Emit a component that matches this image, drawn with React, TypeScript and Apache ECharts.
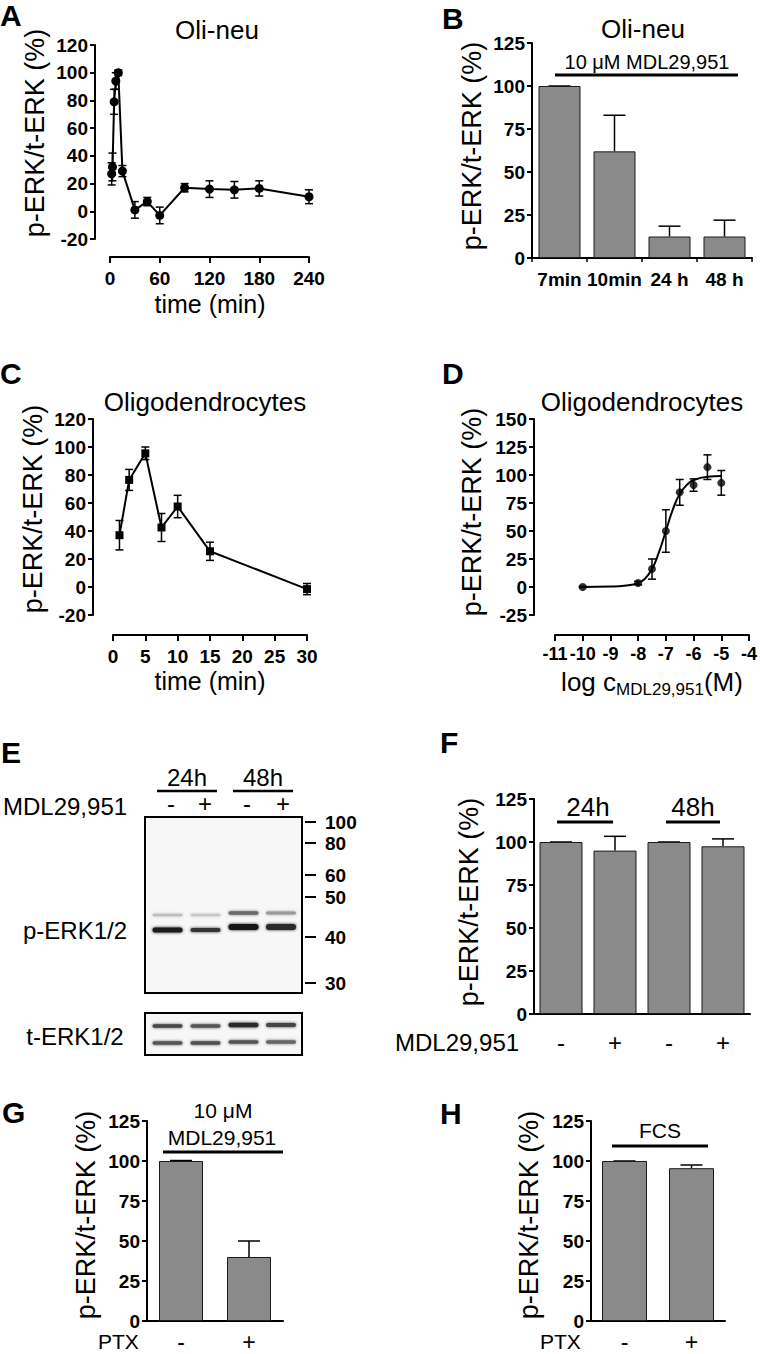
import React, { useEffect, useRef } from 'react';
import * as echarts from 'echarts';

const FONT = '"Liberation Sans", Arial, Helvetica, sans-serif';

// ---- Panel A: Oli-neu time course ----
const A_TIME = [2, 3, 5, 7, 10, 15, 30, 45, 60, 90, 120, 150, 180, 240];
const A_VAL = [27, 32, 79, 94, 100, 29, 1, 7, -3, 17, 16, 15.5, 16.5, 10.5];
const A_ERR = [8, 10, 9, 6, 2, 4, 6, 3, 6, 3, 6, 6, 5.5, 5];

// ---- Panel B: Oli-neu bars ----
const B_CATS = ['7min', '10min', '24 h', '48 h'];
const B_VAL = [100, 62, 12.5, 12.5];
const B_ERR = [0, 21, 6, 9.5];

// ---- Panel C: Oligodendrocytes time course ----
const C_TIME = [1, 2.5, 5, 7.5, 10, 15, 30];
const C_VAL = [37, 76.5, 95.5, 42.5, 57.5, 25.5, -1.5];
const C_ERR = [10.5, 7.5, 4.5, 10, 8, 6.5, 4];

// ---- Panel D: concentration response ----
const D_LOGC = [-10, -8, -7.5, -7, -6.5, -6, -5.5, -5];
const D_VAL = [0, 3.5, 16, 50, 84.5, 91, 107, 93];
const D_ERR = [0.5, 1.5, 9, 19, 11.5, 5.5, 11, 11];
const D_FIT_X = [-10, -9, -8.5, -8, -7.75, -7.5, -7.25, -7, -6.75, -6.5, -6.25, -6, -5.5, -5];
const D_FIT_Y = [0, 0.4, 1.2, 3.5, 7.5, 16, 31, 50, 69, 83, 91, 95.5, 98.5, 99];

// ---- Panel F ----
const F_CATS = ['-', '+', '-', '+'];
const F_VAL = [100, 95, 100, 97.5];
const F_ERR = [0, 8.3, 0, 4.3];

// ---- Panel G ----
const G_CATS = ['-', '+'];
const G_VAL = [100, 40];
const G_ERR = [0.3, 10];

// ---- Panel H ----
const H_CATS = ['-', '+'];
const H_VAL = [100, 95.5];
const H_ERR = [0, 2];

// ---- Blot marker labels ----
const MW_LABELS = ['100', '80', '60', '50', '40', '30'];

const BAR_COLOR = '#8a8a8a';
const TICK_SIZE = 19;

function axisLine() {
  return { show: true, onZero: false, lineStyle: { color: '#000', width: 2 } };
}
function boldLabel(margin: number, size = TICK_SIZE) {
  return { fontSize: size, fontWeight: 'bold', fontFamily: FONT, color: '#000', margin };
}
function valueX(gi: number, min: number, max: number, interval: number, offset: number, size = TICK_SIZE, margin = 12) {
  return {
    type: 'value', gridIndex: gi, min, max, interval, offset,
    axisLine: axisLine(),
    axisTick: { show: true, length: 6, lineStyle: { color: '#000', width: 2 } },
    axisLabel: { ...boldLabel(margin, size), showMinLabel: true, showMaxLabel: true },
    splitLine: { show: false },
  };
}
function valueY(gi: number, min: number, max: number, interval: number, offset: number) {
  return {
    type: 'value', gridIndex: gi, min, max, interval, offset,
    axisLine: axisLine(),
    axisTick: { show: true, length: 5, lineStyle: { color: '#000', width: 2 } },
    axisLabel: { ...boldLabel(7), showMinLabel: true, showMaxLabel: true },
    splitLine: { show: false },
  };
}
function catX(gi: number, data: string[], label: any, tick: boolean) {
  return {
    type: 'category', gridIndex: gi, data, boundaryGap: true,
    axisLine: axisLine(),
    axisTick: { show: tick, length: 4, lineStyle: { color: '#000', width: 1.5 } },
    axisLabel: label,
    splitLine: { show: false },
  };
}

function errSeries(gi: number, xs: any[], vals: number[], errs: number[], cap: number, both: boolean) {
  const data = vals.map((v, i) => [xs[i], both ? v - errs[i] : v, v + errs[i]]);
  return {
    type: 'custom', xAxisIndex: gi, yAxisIndex: gi, data, clip: false, z: 1, silent: true,
    renderItem: (params: any, api: any) => {
      const x = api.value(0);
      const lo = api.coord([x, api.value(1)]);
      const hi = api.coord([x, api.value(2)]);
      const st = { stroke: '#000', lineWidth: 1.5 };
      const children: any[] = [
        { type: 'line', shape: { x1: lo[0], y1: lo[1], x2: hi[0], y2: hi[1] }, style: st },
        { type: 'line', shape: { x1: hi[0] - cap, y1: hi[1], x2: hi[0] + cap, y2: hi[1] }, style: st },
      ];
      if (both) {
        children.push({ type: 'line', shape: { x1: lo[0] - cap, y1: lo[1], x2: lo[0] + cap, y2: lo[1] }, style: st });
      }
      return { type: 'group', children };
    },
  };
}

function barSeries(gi: number, vals: number[], width: number) {
  return {
    type: 'bar', xAxisIndex: gi, yAxisIndex: gi, data: vals, barWidth: width, z: 2,
    itemStyle: { color: BAR_COLOR, borderColor: '#1a1a1a', borderWidth: 1 },
  };
}

function txt(text: string, x: number, y: number, size: number, opts: any = {}) {
  return {
    type: 'text', x, y, rotation: opts.rotation || 0, z: 100,
    style: {
      text, fontSize: size, fontFamily: FONT, fontWeight: opts.bold ? 'bold' : 'normal',
      fill: '#000', align: opts.align || 'center', verticalAlign: 'middle',
    },
  };
}
function ln(x1: number, y1: number, x2: number, y2: number, w = 3) {
  return { type: 'line', z: 100, shape: { x1, y1, x2, y2 }, style: { stroke: '#000', lineWidth: w } };
}
function band(cx: number, cy: number, h: number, fill: string) {
  return {
    type: 'rect', z: 101,
    shape: { x: cx - 15, y: cy - h / 2, width: 30, height: h, r: h / 2 },
    style: { fill, shadowBlur: 3, shadowColor: fill },
  };
}

const YT = 'p-ERK/t-ERK (%)';
const ROT = Math.PI / 2;

const LANES = [167.5, 205.5, 243.5, 281];
const MW_Y = [822, 843, 875, 897, 937, 983];

const graphics: any[] = [
  // panel letters
  txt('A', 0, 15, 30, { bold: true, align: 'left' }),
  txt('B', 442, 18, 30, { bold: true, align: 'left' }),
  txt('C', 0, 373, 30, { bold: true, align: 'left' }),
  txt('D', 442, 373, 30, { bold: true, align: 'left' }),
  txt('E', 1, 752, 30, { bold: true, align: 'left' }),
  txt('F', 440, 742, 30, { bold: true, align: 'left' }),
  txt('G', 2, 1112, 30, { bold: true, align: 'left' }),
  txt('H', 440, 1113, 30, { bold: true, align: 'left' }),
  // titles
  txt('Oli-neu', 217, 30, 26),
  txt('Oli-neu', 643, 29, 26),
  txt('Oligodendrocytes', 205, 402, 26),
  txt('Oligodendrocytes', 642, 402, 26),
  // y titles
  txt(YT, 35, 133, 27, { rotation: ROT }),
  txt(YT, 472, 146, 27, { rotation: ROT }),
  txt(YT, 33, 509, 27, { rotation: ROT }),
  txt(YT, 472, 512, 27, { rotation: ROT }),
  txt(YT, 469, 902, 27, { rotation: ROT }),
  txt(YT, 86, 1215, 27, { rotation: ROT }),
  txt(YT, 529, 1215, 27, { rotation: ROT }),
  // x titles
  txt('time (min)', 210, 304, 25),
  txt('time (min)', 210, 681, 25),
  {
    type: 'text', x: 652, y: 683, z: 100,
    style: {
      text: '{a|log c}{b|MDL29,951}{a|(M)}', align: 'center', verticalAlign: 'middle', fill: '#000',
      rich: {
        a: { fontSize: 26, fontFamily: FONT, fill: '#000', verticalAlign: 'bottom', padding: [0, 0, 3, 0] },
        b: { fontSize: 17, fontFamily: FONT, fill: '#000', verticalAlign: 'bottom' },
      },
    },
  },
  // B bracket
  ln(555, 75, 738, 75),
  txt('10 μM MDL29,951', 647, 62, 20),
  // F brackets
  ln(557, 822, 613, 822),
  txt('24h', 588, 807, 26),
  ln(666, 822, 720, 822),
  txt('48h', 693, 807, 26),
  txt('MDL29,951', 395, 1042, 24, { align: 'left' }),
  // G bracket
  ln(163, 1152, 283, 1152),
  txt('10 μM', 223, 1110, 21),
  txt('MDL29,951', 222, 1137, 21),
  txt('PTX', 98, 1341, 21, { align: 'left' }),
  // H bracket
  ln(612, 1146, 708, 1146),
  txt('FCS', 660, 1130, 21),
  txt('PTX', 540, 1341, 21, { align: 'left' }),
  // E blot labels
  txt('24h', 187, 777, 24),
  ln(157, 791, 217, 791, 2.5),
  txt('48h', 263, 777, 24),
  ln(233, 791, 293, 791, 2.5),
  txt('MDL29,951', 3, 806, 24, { align: 'left' }),
  txt('-', 171, 803, 24),
  txt('+', 205, 803, 24),
  txt('-', 247, 803, 24),
  txt('+', 283, 803, 24),
  txt('p-ERK1/2', 75, 930, 24),
  txt('t-ERK1/2', 75, 1036, 24),
  // blot boxes
  { type: 'rect', z: 100, shape: { x: 145, y: 817, width: 157, height: 176 }, style: { fill: '#f7f7f7', stroke: '#000', lineWidth: 2 } },
  { type: 'rect', z: 100, shape: { x: 145, y: 1013, width: 157, height: 42 }, style: { fill: '#f7f7f7', stroke: '#000', lineWidth: 2 } },
  // p-ERK bands
  band(LANES[0], 915, 2.5, '#bdbdbd'),
  band(LANES[1], 915, 2.5, '#c8c8c8'),
  band(LANES[2], 913, 3.5, '#6a6a6a'),
  band(LANES[3], 913, 3, '#9a9a9a'),
  band(LANES[0], 930, 5, '#1e1e1e'),
  band(LANES[1], 930, 4, '#353535'),
  band(LANES[2], 927, 6, '#151515'),
  band(LANES[3], 927, 6, '#2c2c2c'),
  // t-ERK bands
  band(LANES[0], 1026, 3.5, '#474747'),
  band(LANES[1], 1026, 3.5, '#555555'),
  band(LANES[2], 1025, 4.5, '#2a2a2a'),
  band(LANES[3], 1025, 4, '#444444'),
  band(LANES[0], 1043, 3.5, '#555555'),
  band(LANES[1], 1043, 3.5, '#505050'),
  band(LANES[2], 1042, 3.5, '#555555'),
  band(LANES[3], 1042, 3.5, '#666666'),
  // MW markers
  ...MW_LABELS.flatMap((l, i) => [
    ln(305, MW_Y[i], 316, MW_Y[i], 2),
    txt(l, 325, MW_Y[i], 19, { bold: true, align: 'left' }),
  ]),
];

const option: any = {
  animation: false,
  backgroundColor: '#fff',
  textStyle: { fontFamily: FONT },
  grid: [
    { left: 110, top: 45, width: 199, height: 194 }, // A
    { left: 532, top: 43, width: 220, height: 215 }, // B
    { left: 113, top: 419, width: 194, height: 196 }, // C
    { left: 555, top: 419, width: 195, height: 196 }, // D
    { left: 534, top: 799, width: 216, height: 215 }, // F
    { left: 147, top: 1121, width: 136, height: 200 }, // G
    { left: 591, top: 1121, width: 134, height: 200 }, // H
  ],
  xAxis: [
    valueX(0, 0, 240, 60, 18),
    catX(1, B_CATS, { ...boldLabel(12), interval: 0 }, true),
    valueX(2, 0, 30, 5, 20),
    valueX(3, -11, -4, 1, 20, 18, 10),
    catX(4, F_CATS, { fontSize: 24, fontFamily: FONT, color: '#000', margin: 16, interval: 0 }, false),
    catX(5, G_CATS, { fontSize: 23, fontFamily: FONT, color: '#000', margin: 9, interval: 0 }, false),
    catX(6, H_CATS, { fontSize: 23, fontFamily: FONT, color: '#000', margin: 9, interval: 0 }, false),
  ],
  yAxis: [
    valueY(0, -20, 120, 20, 15),
    valueY(1, 0, 125, 25, 0),
    valueY(2, -20, 120, 20, 20),
    valueY(3, -25, 150, 25, 21),
    valueY(4, 0, 125, 25, 0),
    valueY(5, 0, 125, 25, 0),
    valueY(6, 0, 125, 25, 0),
  ],
  series: [
    // A
    errSeries(0, A_TIME, A_VAL, A_ERR, 4, true),
    {
      type: 'line', xAxisIndex: 0, yAxisIndex: 0, data: A_TIME.map((t, i) => [t, A_VAL[i]]),
      symbol: 'circle', symbolSize: 9, itemStyle: { color: '#000' }, lineStyle: { color: '#000', width: 2 }, z: 3,
    },
    // B
    barSeries(1, B_VAL, 42),
    errSeries(1, [0, 1, 2, 3], B_VAL, B_ERR, 11, false),
    // C
    errSeries(2, C_TIME, C_VAL, C_ERR, 4, true),
    {
      type: 'line', xAxisIndex: 2, yAxisIndex: 2, data: C_TIME.map((t, i) => [t, C_VAL[i]]),
      symbol: 'rect', symbolSize: 8, itemStyle: { color: '#000' }, lineStyle: { color: '#000', width: 2 }, z: 3,
    },
    // D
    errSeries(3, D_LOGC, D_VAL, D_ERR, 4, true),
    {
      type: 'line', xAxisIndex: 3, yAxisIndex: 3, data: D_FIT_X.map((x, i) => [x, D_FIT_Y[i]]),
      smooth: true, showSymbol: false, symbol: 'none', lineStyle: { color: '#000', width: 2 }, z: 2,
    },
    {
      type: 'scatter', xAxisIndex: 3, yAxisIndex: 3, data: D_LOGC.map((x, i) => [x, D_VAL[i]]),
      symbol: 'circle', symbolSize: 8, itemStyle: { color: '#000' }, z: 3,
    },
    // F
    barSeries(4, F_VAL, 43),
    errSeries(4, [0, 1, 2, 3], F_VAL, F_ERR, 11, false),
    // G
    barSeries(5, G_VAL, 44),
    errSeries(5, [0, 1], G_VAL, G_ERR, 11, false),
    // H
    barSeries(6, H_VAL, 45),
    errSeries(6, [0, 1], H_VAL, H_ERR, 11, false),
  ],
  graphic: graphics,
};

export default function App() {
  const ref = useRef<HTMLDivElement>(null);
  useEffect(() => {
    document.body.style.margin = '0';
    const chart = echarts.init(ref.current!, null, { renderer: 'svg' });
    chart.setOption(option);
    return () => chart.dispose();
  }, []);
  return (
    <div
      ref={ref}
      style={{ position: 'absolute', left: 0, top: 0, width: 760, height: 1354, background: '#fff' }}
    />
  );
}
